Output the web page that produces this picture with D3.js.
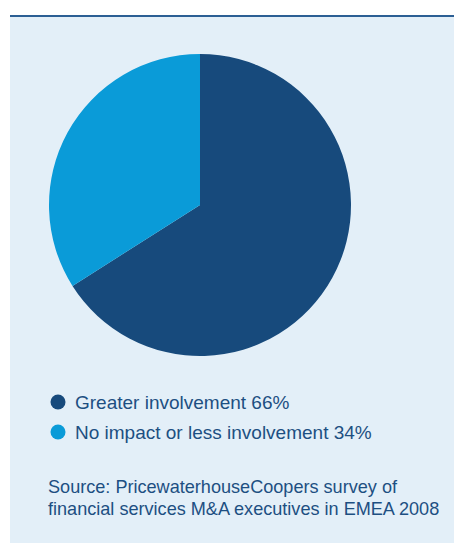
<!DOCTYPE html>
<html><head><meta charset="utf-8">
<script src="https://cdn.jsdelivr.net/npm/d3@7"></script>
<style>html,body{margin:0;padding:0;background:#fff;}svg{display:block;}</style>
</head><body>
<script>
const categories = ["Greater involvement", "No impact or less involvement"];
const values = [66, 34];
const colors = ["#174a7c", "#0a9bd8"];
const sourceLines = ["Source: PricewaterhouseCoopers survey of", "financial services M&A executives in EMEA 2008"];

const W = 454, H = 543;
const svg = d3.select("body").append("svg").attr("width", W).attr("height", H);

svg.append("rect").attr("x", 10).attr("y", 16).attr("width", W - 10).attr("height", H - 16).attr("fill", "#e3eff8");
svg.append("rect").attr("x", 10).attr("y", 15).attr("width", W - 10).attr("height", 2).attr("fill", "#2c5f94");

const cx = 200, cy = 205, r = 151;
const pie = d3.pie().sort(null).value(d => d);
const arc = d3.arc().innerRadius(0).outerRadius(r);
svg.append("g").attr("transform", `translate(${cx},${cy})`)
  .selectAll("path").data(pie(values)).join("path")
  .attr("d", arc).attr("fill", (d, i) => colors[i]);

const font = "'Liberation Sans', Arial, sans-serif";
const textColor = "#1d4f82";
const leg = svg.append("g");
categories.forEach((c, i) => {
  const y = 402 + i * 30;
  leg.append("circle").attr("cx", 58).attr("cy", y).attr("r", 7.5).attr("fill", colors[i]);
  leg.append("text").attr("x", 75).attr("y", y + 6.5).attr("font-family", font).attr("font-size", 19)
    .attr("fill", textColor).text(`${c} ${values[i]}%`);
});

sourceLines.forEach((t, i) => {
  svg.append("text").attr("x", 48).attr("y", 493 + i * 22).attr("font-family", font).attr("font-size", 18.1)
    .attr("fill", textColor).text(t);
});
</script>
</body></html>
